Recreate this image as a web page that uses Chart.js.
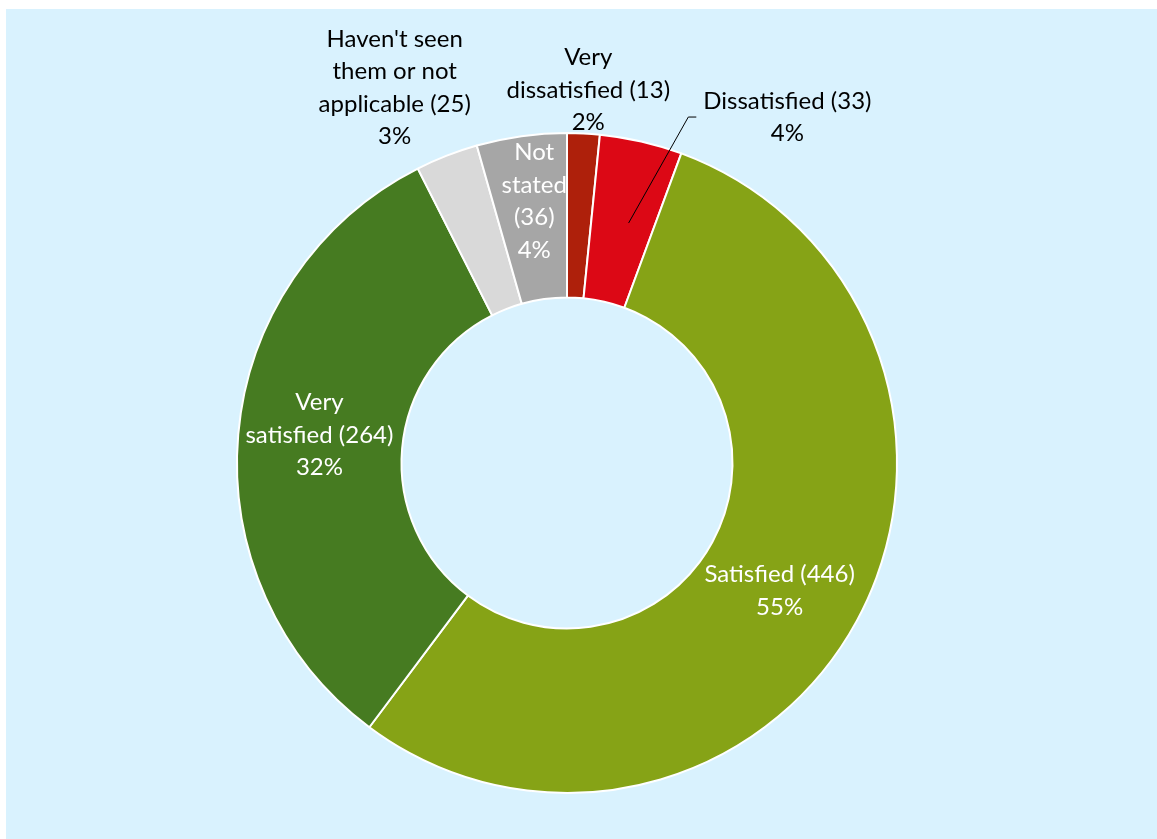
<!DOCTYPE html>
<html>
<head>
<meta charset="utf-8">
<script src="https://cdn.jsdelivr.net/npm/chart.js@4"></script>
<style>
  html, body { margin: 0; padding: 0; background: #fff; }
  #panel { position: absolute; left: 6px; top: 9px; width: 1151px; height: 830px; background: #d9f2fe; }
</style>
</head>
<body>
<div id="panel"><canvas id="satChart" width="1151" height="830"></canvas></div>
<script>
const categories = ['Very dissatisfied', 'Dissatisfied', 'Satisfied', 'Very satisfied', "Haven't seen them or not applicable", 'Not stated'];
const counts = [13, 33, 446, 264, 25, 36];
const colors = ['#ae200b', '#dc0815', '#86a316', '#467b21', '#d9d9d9', '#a6a6a6'];

// label text broken into lines the way they wrap on the chart
const labelLines = [
  ['Very', 'dissatisfied (13)'],
  ['Dissatisfied (33)'],
  ['Satisfied (446)'],
  ['Very', 'satisfied (264)'],
  ["Haven't seen", 'them or not', 'applicable (25)'],
  ['Not', 'stated', '(36)']
];
const labelColors = ['#000', '#000', '#fff', '#fff', '#000', '#fff'];
// where each label sits: distance as a share of the outer radius, angle nudge in degrees
const labelRadius = [1.132, 1.243, 0.752, 0.755, 1.251, 0.80];
const labelNudge = [0.4, 19.5, 2.5, 1.5, -3.3, 0.8];
const leaderLines = [false, true, false, false, false, false];

const FONT = '24px Lato, "Open Sans", sans-serif';
const LINE_H = 32.5;

const total = counts.reduce((a, b) => a + b, 0);

const sliceLabels = {
  id: 'sliceLabels',
  afterDatasetsDraw(chart) {
    const ctx = chart.ctx;
    const arcs = chart.getDatasetMeta(0).data;
    ctx.save();
    ctx.font = FONT;
    ctx.textAlign = 'center';
    ctx.textBaseline = 'middle';
    arcs.forEach((arc, i) => {
      const p = arc.getProps(['x', 'y', 'startAngle', 'endAngle', 'innerRadius', 'outerRadius'], true);
      const mid = (p.startAngle + p.endAngle) / 2;
      const a = mid + labelNudge[i] * Math.PI / 180;
      const r = p.outerRadius * labelRadius[i];
      const cx = p.x + Math.cos(a) * r;
      const cy = p.y + Math.sin(a) * r;
      const lines = labelLines[i].concat([Math.round(counts[i] / total * 100) + '%']);
      const top = cy - (lines.length - 1) * LINE_H / 2;

      if (leaderLines[i]) {
        const w = Math.max(...lines.map(l => ctx.measureText(l).width));
        const ra = mid + 1.4 * Math.PI / 180;
        const rr = (p.innerRadius + p.outerRadius) / 2;
        ctx.strokeStyle = '#000';
        ctx.lineWidth = 1;
        ctx.beginPath();
        ctx.moveTo(p.x + Math.cos(ra) * rr, p.y + Math.sin(ra) * rr);
        ctx.lineTo(cx - w / 2 - 15, cy);
        ctx.lineTo(cx - w / 2 - 7, cy);
        ctx.stroke();
      }

      ctx.fillStyle = labelColors[i];
      lines.forEach((t, k) => ctx.fillText(t, cx, top + k * LINE_H));
    });
    ctx.restore();
  }
};

new Chart(document.getElementById('satChart'), {
  type: 'doughnut',
  data: {
    labels: categories,
    datasets: [{
      data: counts,
      backgroundColor: colors,
      borderColor: '#ffffff',
      borderWidth: 2
    }]
  },
  options: {
    responsive: false,
    animation: false,
    devicePixelRatio: 1,
    radius: 330,
    cutout: 165,
    layout: { padding: { left: 231, right: 260, top: 124, bottom: 46 } },
    plugins: {
      legend: { display: false },
      tooltip: { enabled: false }
    }
  },
  plugins: [sliceLabels]
});
</script>
</body>
</html>
